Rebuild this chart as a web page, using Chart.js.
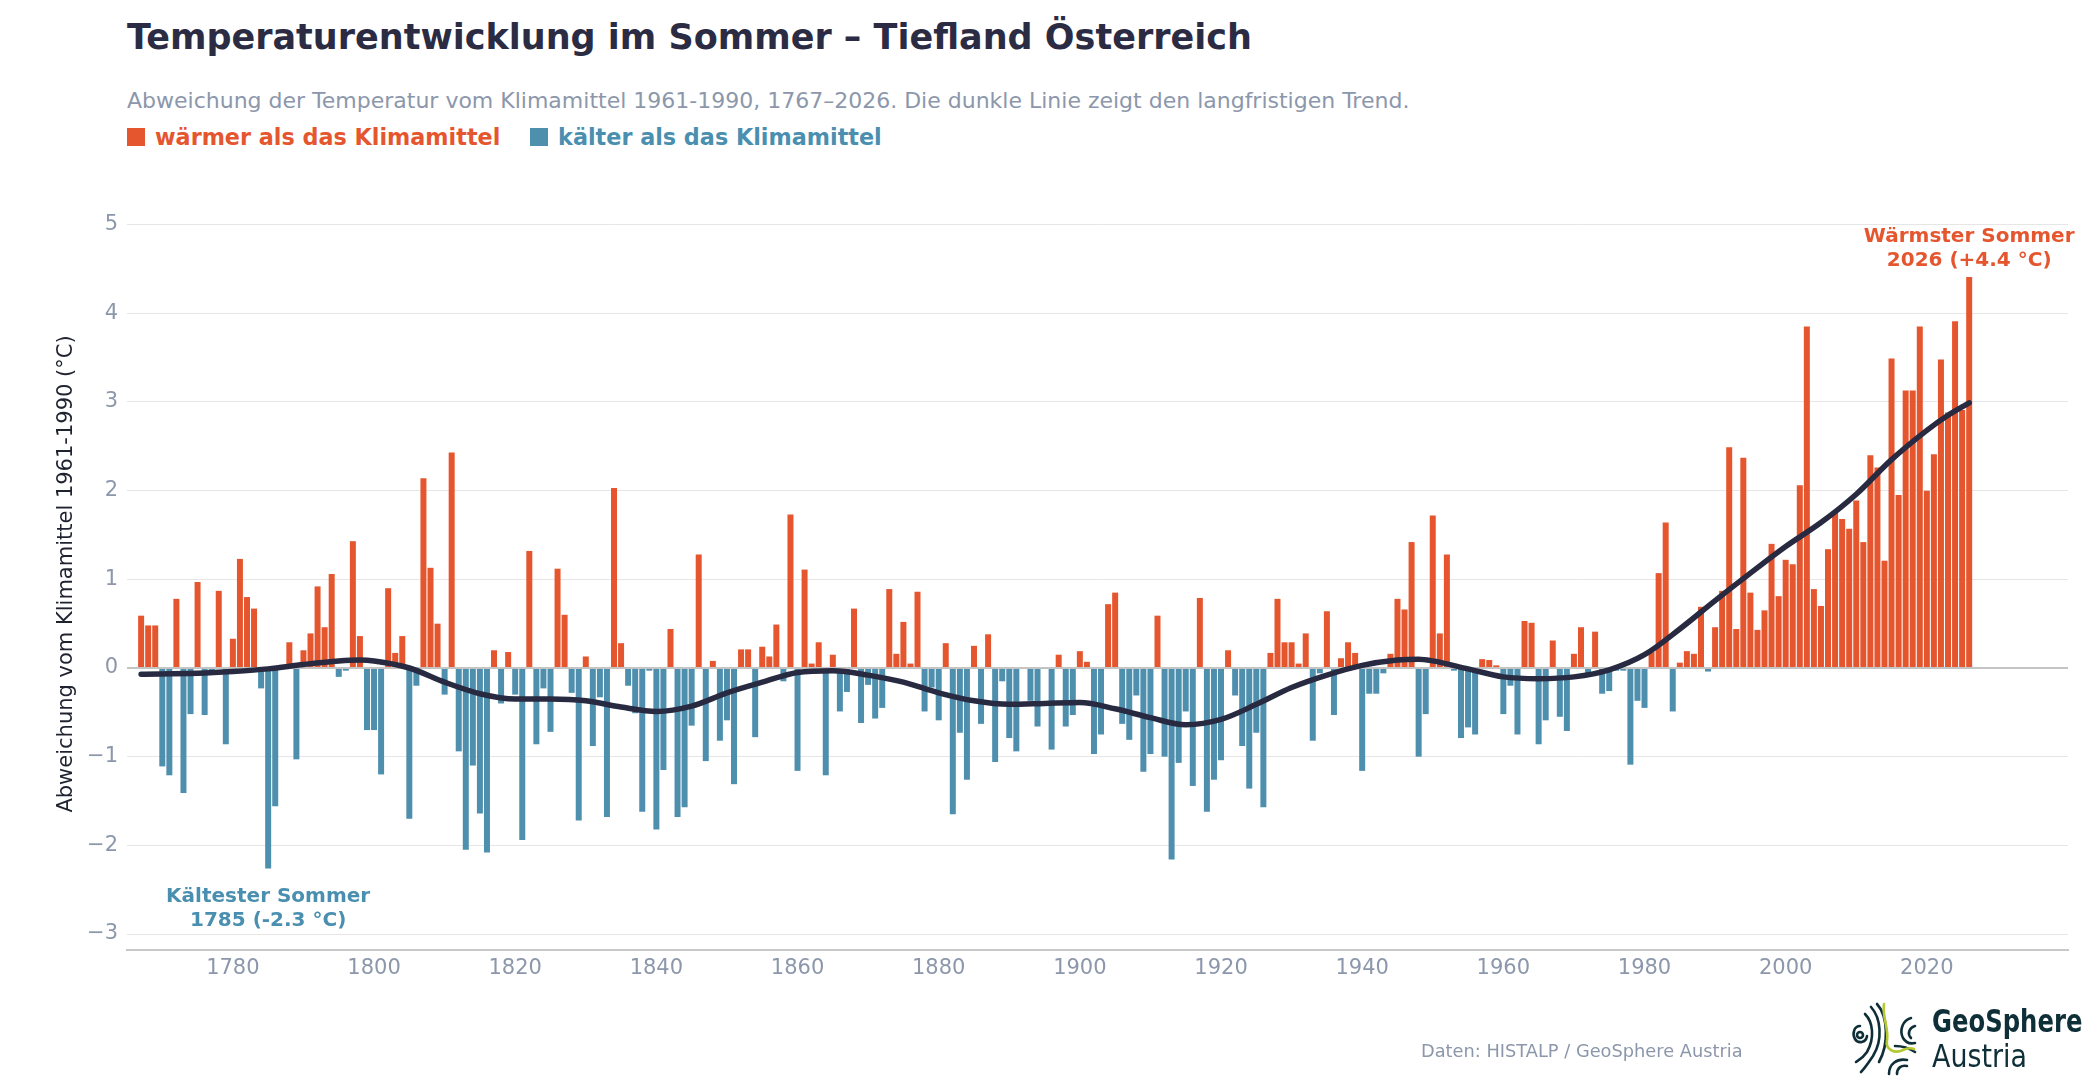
<!DOCTYPE html>
<html lang="de">
<head>
<meta charset="utf-8">
<title>Temperaturentwicklung im Sommer – Tiefland Österreich</title>
<script src="https://cdn.jsdelivr.net/npm/chart.js@4.4.1/dist/chart.umd.min.js"></script>
<style>
  html, body { margin: 0; padding: 0; background: #fff; }
  body { width: 2100px; height: 1080px; position: relative; overflow: hidden; font-family: "DejaVu Sans", sans-serif; }
  #chart { position: absolute; left: 0; top: 0; }
  .txt { position: absolute; white-space: nowrap; }
  #title { left: 127px; top: 15px; font-size: 35px; line-height: 44px; font-weight: bold; color: #2b2c43; }
  #subtitle { left: 127px; top: 87px; font-size: 22px; line-height: 28px; color: #8c97ab; }
  #legend { left: 127px; top: 123px; font-size: 22.3px; line-height: 28px; font-weight: bold; }
  #legend span.sq { display: inline-block; width: 18px; height: 18px; margin-right: 10px; vertical-align: -1px; }
  #legend .item { display: inline-block; margin-right: 22px; }
  #source { left: 1421px; top: 1040px; font-size: 17.8px; line-height: 22px; color: #8c97ab; }
  #logo { position: absolute; left: 1851px; top: 1002px; }
  #geo1 { left: 1932px; top: 1002px; font-size: 32px; line-height: 38px; font-weight: bold; color: #0f2f38; transform: scaleX(0.76); transform-origin: 0 0; }
  #geo2 { left: 1932px; top: 1037px; font-size: 32px; line-height: 38px; color: #0f2f38; transform: scaleX(0.84); transform-origin: 0 0; }
</style>
</head>
<body>
<div id="title" class="txt">Temperaturentwicklung im Sommer – Tiefland Österreich</div>
<div id="subtitle" class="txt">Abweichung der Temperatur vom Klimamittel 1961-1990, 1767–2026. Die dunkle Linie zeigt den langfristigen Trend.</div>
<div id="legend" class="txt">
  <span class="item" style="color:#e5562f"><span class="sq" style="background:#e5562f"></span>wärmer als das Klimamittel</span>
  <span class="item" style="color:#4a8fb0"><span class="sq" style="background:#4f8fae"></span>kälter als das Klimamittel</span>
</div>
<canvas id="chart" width="2100" height="1080"></canvas>
<div id="source" class="txt">Daten: HISTALP / GeoSphere Austria</div>
<svg id="logo" width="74" height="74" viewBox="0 0 74 74" fill="none" stroke-linecap="round">
  <g stroke="#0f2f38" stroke-width="2.6">
    <circle cx="9" cy="33" r="3"/>
    <path d="M9 24 C 3 24, 1 32, 4 37 C 7 42, 15 41, 16 34"/>
    <path d="M14 12 C 22 20, 24 36, 16 50 C 12 56, 8 58, 5 60"/>
    <path d="M20 5 C 30 16, 32 38, 22 54 C 18 60, 14 66, 10 70"/>
    <path d="M26 2 C 37 14, 38 42, 28 60"/>
    <path d="M60 16 C 52 18, 48 28, 52 36 C 55 41, 60 42, 64 41"/>
    <path d="M64 24 C 58 26, 56 32, 60 36"/>
    <path d="M44 44 C 50 44, 58 46, 64 50"/>
    <path d="M38 72 C 38 62, 46 56, 56 58"/>
    <path d="M46 72 C 46 66, 50 63, 56 64"/>
  </g>
  <path d="M33 2 C 31 16, 38 26, 36 38 C 34 48, 44 52, 52 48 C 56 46, 60 46, 63 47" stroke="#b5c932" stroke-width="2.6"/>
</svg>
<div id="geo1" class="txt">GeoSphere</div>
<div id="geo2" class="txt">Austria</div>

<script>
// Sommer-Abweichung vom Klimamittel 1961-1990 (°C), Tiefland Österreich
const firstYear = 1767;
const summerAnomaly = [
  0.59, 0.48, 0.48,                                                   // 1767-1769
  -1.11, -1.21, 0.78, -1.41, -0.52, 0.97, -0.53, -0.03, 0.87, -0.86,  // 1770er
  0.33, 1.23, 0.80, 0.67, -0.23, -2.26, -1.56, 0.00, 0.29, -1.03,     // 1780er
  0.20, 0.39, 0.92, 0.46, 1.06, -0.10, -0.03, 1.43, 0.36, -0.70,      // 1790er
  -0.70, -1.20, 0.90, 0.17, 0.36, -1.70, -0.20, 2.14, 1.13, 0.50,     // 1800er
  -0.30, 2.43, -0.94, -2.05, -1.10, -1.64, -2.08, 0.20, -0.40, 0.18,  // 1810er
  -0.30, -1.94, 1.32, -0.86, -0.23, -0.72, 1.12, 0.60, -0.28, -1.72,  // 1820er
  0.13, -0.88, -0.33, -1.68, 2.03, 0.28, -0.20, -0.51, -1.62, -0.03,  // 1830er
  -1.82, -1.15, 0.44, -1.68, -1.57, -0.65, 1.28, -1.05, 0.08, -0.82,  // 1840er
  -0.59, -1.31, 0.21, 0.21, -0.78, 0.24, 0.13, 0.49, -0.15, 1.73,     // 1850er
  -1.16, 1.11, 0.05, 0.29, -1.21, 0.15, -0.49, -0.27, 0.67, -0.62,    // 1860er
  -0.19, -0.57, -0.45, 0.89, 0.16, 0.52, 0.05, 0.86, -0.49, -0.22,    // 1870er
  -0.59, 0.28, -1.65, -0.73, -1.26, 0.25, -0.63, 0.38, -1.06, -0.15,  // 1880er
  -0.79, -0.94, 0.00, -0.37, -0.66, -0.01, -0.92, 0.15, -0.66, -0.53, // 1890er
  0.19, 0.07, -0.97, -0.75, 0.72, 0.85, -0.63, -0.81, -0.31, -1.17,   // 1900er
  -0.97, 0.59, -1.00, -2.16, -1.07, -0.49, -1.33, 0.79, -1.62, -1.26, // 1910er
  -1.04, 0.20, -0.31, -0.88, -1.36, -0.73, -1.57, 0.17, 0.78, 0.29,   // 1920er
  0.29, 0.05, 0.39, -0.82, -0.06, 0.64, -0.53, 0.11, 0.29, 0.17,      // 1930er
  -1.16, -0.29, -0.29, -0.06, 0.16, 0.78, 0.66, 1.42, -1.00, -0.52,   // 1940er
  1.72, 0.39, 1.28, -0.03, -0.79, -0.67, -0.75, 0.10, 0.09, 0.03,     // 1950er
  -0.52, -0.20, -0.75, 0.53, 0.51, -0.86, -0.59, 0.31, -0.55, -0.71,  // 1960er
  0.16, 0.46, -0.08, 0.41, -0.29, -0.26, -0.03, -0.03, -1.09, -0.37,  // 1970er
  -0.45, 0.18, 1.07, 1.64, -0.49, 0.06, 0.19, 0.16, 0.69, -0.04,      // 1980er
  0.46, 0.87, 2.49, 0.44, 2.37, 0.85, 0.43, 0.65, 1.40, 0.81,         // 1990er
  1.22, 1.17, 2.06, 3.85, 0.89, 0.70, 1.34, 1.77, 1.68, 1.57,         // 2000er
  1.89, 1.42, 2.40, 2.26, 1.21, 3.49, 1.95, 3.13, 3.13, 3.85,         // 2010er
  2.00, 2.41, 3.48, 2.88, 3.91, 2.91, 4.41                            // 2020-2026
];
const years = summerAnomaly.map((_, i) => firstYear + i);

// langfristiger Trend
const trendYears = [1767, 1775, 1780, 1785, 1790, 1795, 1798, 1800, 1805, 1810, 1815, 1820, 1825, 1830, 1835,
  1840, 1845, 1850, 1855, 1860, 1865, 1870, 1875, 1880, 1885, 1890, 1895, 1900, 1905, 1910, 1915, 1920, 1925,
  1930, 1935, 1940, 1945, 1948, 1950, 1955, 1960, 1965, 1970, 1975, 1980, 1985, 1990, 1995, 2000, 2005, 2010,
  2015, 2020, 2023, 2026];
const trendValues = [-0.07, -0.06, -0.04, -0.01, 0.04, 0.08, 0.09, 0.08, 0.00, -0.16, -0.29, -0.35, -0.35, -0.37, -0.44,
  -0.49, -0.43, -0.28, -0.16, -0.05, -0.03, -0.08, -0.16, -0.28, -0.37, -0.41, -0.40, -0.39, -0.46, -0.56, -0.64, -0.58, -0.41,
  -0.22, -0.08, 0.03, 0.09, 0.10, 0.08, -0.01, -0.10, -0.12, -0.10, -0.02, 0.15, 0.44, 0.76, 1.07, 1.37, 1.64, 1.96,
  2.35, 2.68, 2.85, 2.99];

const xTicks = [1780, 1800, 1820, 1840, 1860, 1880, 1900, 1920, 1940, 1960, 1980, 2000, 2020];
const yTicks = [-3, -2, -1, 0, 1, 2, 3, 4, 5];

const warm = "#e5562f";
const cold = "#4f8fae";
const grey = "#8c97ab";
const font = "'DejaVu Sans', sans-serif";

// Beschriftung wärmster / kältester Sommer
const extremes = {
  id: "extremes",
  afterDatasetsDraw(chart) {
    const { ctx, scales } = chart;
    const iMax = summerAnomaly.indexOf(Math.max(...summerAnomaly));
    const iMin = summerAnomaly.indexOf(Math.min(...summerAnomaly));
    ctx.save();
    ctx.textAlign = "center";
    ctx.textBaseline = "middle";
    ctx.font = "bold 20px " + font;

    let x = scales.x.getPixelForValue(years[iMax]);
    let y = scales.y.getPixelForValue(summerAnomaly[iMax]);
    ctx.fillStyle = warm;
    ctx.fillText("Wärmster Sommer", x, y - 40);
    ctx.fillText(years[iMax] + " (+" + summerAnomaly[iMax].toFixed(1) + " °C)", x, y - 16);

    x = scales.x.getPixelForValue(years[iMin]);
    y = scales.y.getPixelForValue(summerAnomaly[iMin]);
    ctx.fillStyle = "#4a8fb0";
    ctx.fillText("Kältester Sommer", x, y + 28);
    ctx.fillText(years[iMin] + " (" + summerAnomaly[iMin].toFixed(1) + " °C)", x, y + 52);
    ctx.restore();
  }
};

new Chart(document.getElementById("chart"), {
  data: {
    datasets: [
      {
        type: "line",
        label: "Trend",
        data: trendYears.map((yr, i) => ({ x: yr, y: trendValues[i] })),
        borderColor: "#272a40",
        borderWidth: 5.5,
        borderCapStyle: "round",
        pointRadius: 0,
        cubicInterpolationMode: "monotone",
        order: 0
      },
      {
        type: "bar",
        label: "Abweichung",
        data: years.map((yr, i) => ({ x: yr, y: summerAnomaly[i] })),
        backgroundColor: summerAnomaly.map(v => (v >= 0 ? warm : cold)),
        barPercentage: 0.85,
        categoryPercentage: 1,
        order: 1
      }
    ]
  },
  options: {
    responsive: false,
    devicePixelRatio: 1,
    animation: false,
    layout: { padding: { left: 0, top: 198, right: 32, bottom: 100 } },
    plugins: { legend: { display: false }, tooltip: { enabled: false } },
    scales: {
      x: {
        type: "linear",
        offset: false,
        min: 1765,
        max: 2040,
        afterBuildTicks: s => { s.ticks = xTicks.map(v => ({ value: v })); },
        afterFit: s => { s.height = 30; },
        grid: { display: false, drawTicks: false, offset: false },
        border: { display: true, color: "#c8c8c8", width: 2 },
        ticks: { color: grey, font: { family: font, size: 21 }, padding: 6, callback: v => String(v) }
      },
      y: {
        min: -3.18,
        max: 5.3,
        afterBuildTicks: s => { s.ticks = yTicks.map(v => ({ value: v })); },
        afterFit: s => { s.width = 127; },
        grid: {
          drawTicks: false,
          color: c => (c.tick && c.tick.value === 0 ? "#c4c4c4" : "#e6e6e6"),
          lineWidth: c => (c.tick && c.tick.value === 0 ? 2 : 1)
        },
        border: { display: false },
        ticks: {
          color: grey,
          font: { family: font, size: 21 },
          padding: 9,
          callback: v => (v < 0 ? "\u2212" + Math.abs(v) : String(v))
        },
        title: {
          display: true,
          text: "Abweichung vom Klimamittel 1961-1990 (°C)",
          color: "#1f2330",
          font: { family: font, size: 21 },
          padding: { top: 54, bottom: 0 }
        }
      }
    }
  },
  plugins: [extremes]
});
</script>
</body>
</html>
